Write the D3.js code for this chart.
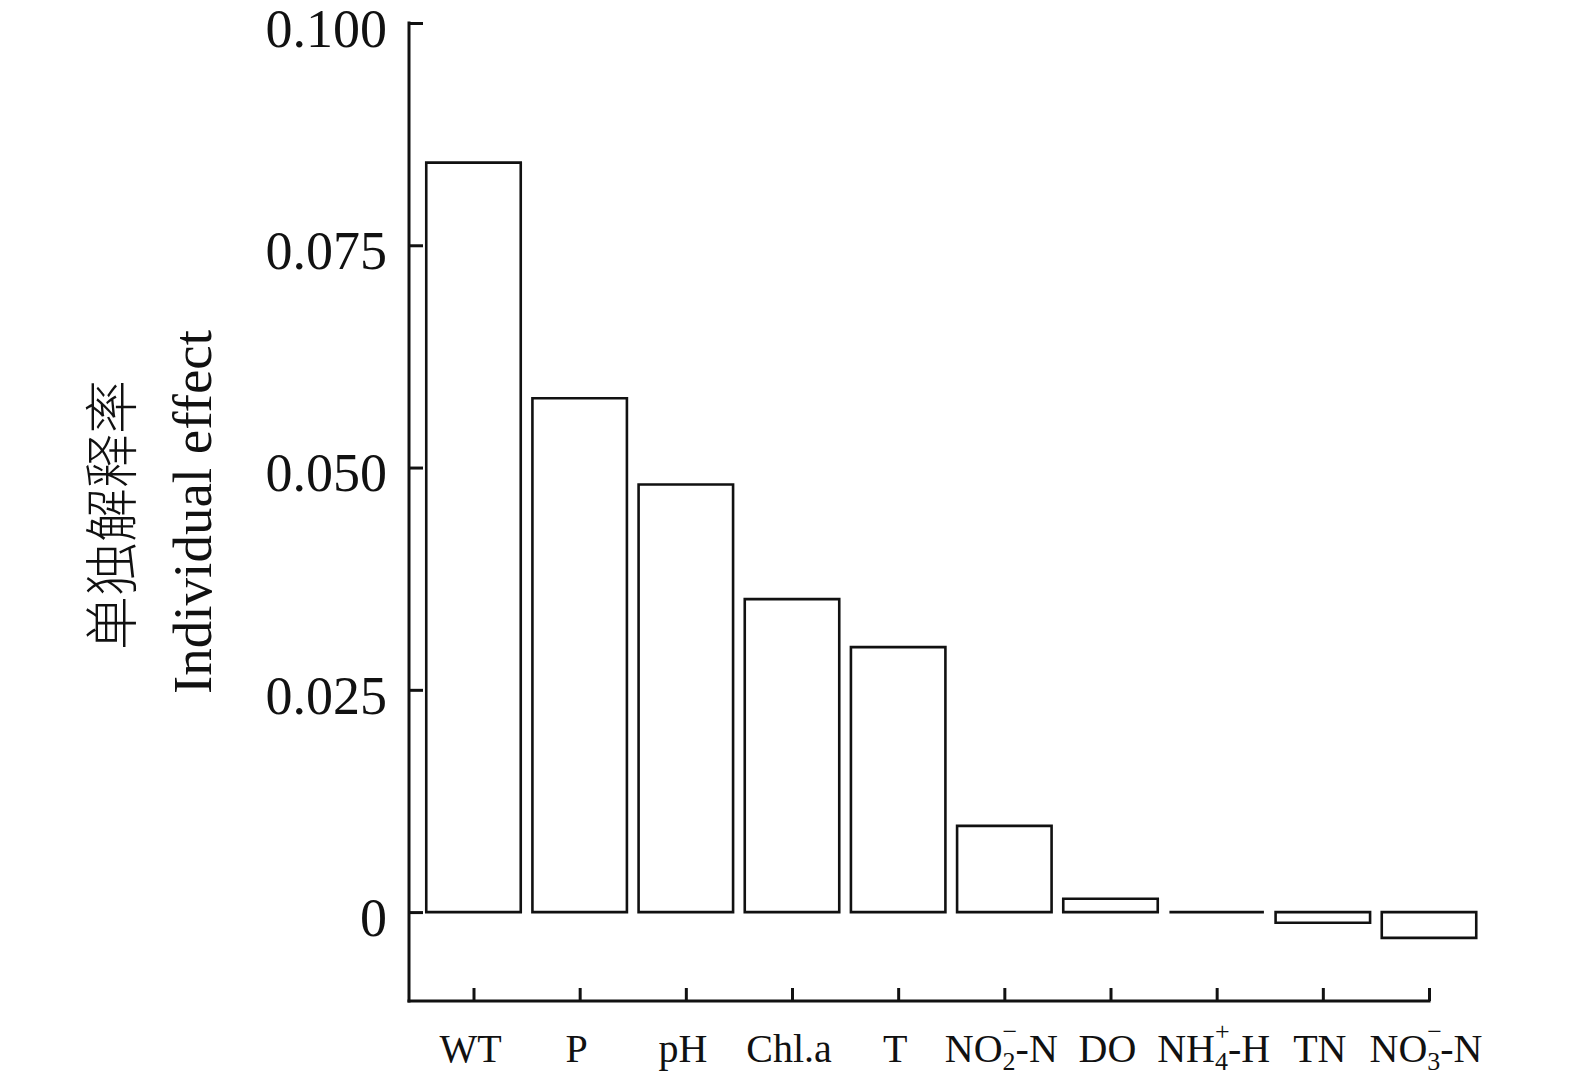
<!DOCTYPE html>
<html>
<head>
<meta charset="utf-8">
<script src="https://cdn.jsdelivr.net/npm/d3@7"></script>
<style>
  html, body { margin: 0; padding: 0; background: #fff; }
  svg { display: block; }
  text { font-family: "Liberation Serif", "Times New Roman", "Noto Sans CJK SC", serif; fill: #111; }
</style>
</head>
<body>
<svg id="chart" width="1575" height="1082"></svg>
<script>
// ---- data ----
const categories = ["WT", "P", "pH", "Chl.a", "T", "NO2-N", "DO", "NH4-H", "TN", "NO3-N"];
const values = [0.0843, 0.0578, 0.0481, 0.0352, 0.0298, 0.0097, 0.0015, 0.0, -0.0012, -0.0029];
const yTicks = [0, 0.025, 0.05, 0.075, 0.1];
const yTickLabels = ["0", "0.025", "0.050", "0.075", "0.100"];
// label parts: [base, subscript, superscript, tail]
const labelParts = {
  "NO2-N": ["NO", "2", "\u2212", "-N"],
  "NH4-H": ["NH", "4", "+", "-H"],
  "NO3-N": ["NO", "3", "\u2212", "-N"]
};
const yTitleCN = "单独解释率";
const yTitleEN = "Individual effect";

// ---- layout ----
const axisX = 409, axisBottom = 1001, axisTop = 23;
const firstCenter = 473.5, lastCenter = 1429;
const ink = "#111";

const svg = d3.select("#chart");

const x = d3.scalePoint().domain(categories).range([firstCenter, lastCenter]);
const y = d3.scaleLinear().domain([-0.01, 0.1]).range([axisBottom, axisTop]);
const barW = x.step() * 0.89;

// bars (as paths so a zero value still shows as a line)
svg.append("g")
  .selectAll("path")
  .data(categories.map((c, i) => ({ c, v: values[i] })))
  .join("path")
  .attr("d", d => {
    const p = d3.path();
    const x0 = x(d.c) - barW / 2;
    const y0 = y(Math.max(0, d.v));
    const h = Math.abs(y(d.v) - y(0));
    p.rect(x0, y0, barW, h);
    return p.toString();
  })
  .attr("fill", "#fff")
  .attr("stroke", ink)
  .attr("stroke-width", 2.6);

// y axis
const yAxis = d3.axisLeft(y)
  .tickValues(yTicks)
  .tickFormat((d, i) => yTickLabels[i])
  .tickSizeInner(-14)
  .tickSizeOuter(0)
  .tickPadding(22);

const gy = svg.append("g").attr("transform", `translate(${axisX},0)`).call(yAxis);
gy.select(".domain").remove();
gy.selectAll(".tick line").attr("stroke", ink).attr("stroke-width", 3);
gy.selectAll(".tick text")
  .attr("font-size", 54)
  .attr("dy", "0.43em")
  .attr("font-family", "Liberation Serif, Times New Roman, serif")
  .attr("fill", ink);
gy.append("line")
  .attr("x1", 0).attr("x2", 0)
  .attr("y1", y(0.1) - 1.5).attr("y2", axisBottom + 1.5)
  .attr("stroke", ink).attr("stroke-width", 3);

// x axis
const xAxis = d3.axisBottom(x)
  .tickSizeInner(-13)
  .tickSizeOuter(0)
  .tickFormat("");
const gx = svg.append("g").attr("transform", `translate(0,${axisBottom})`).call(xAxis);
gx.select(".domain").remove();
gx.selectAll(".tick line").attr("stroke", ink).attr("stroke-width", 3);
gx.append("line")
  .attr("x1", axisX - 1.5).attr("x2", x(categories[categories.length - 1]) + 1.5)
  .attr("y1", 0).attr("y2", 0)
  .attr("stroke", ink).attr("stroke-width", 3);

// x labels
const labelSize = 40, smallSize = 26;
const xl = svg.append("g");
categories.forEach(c => {
  const t = xl.append("text")
    .attr("x", x(c) - 3)
    .attr("y", 1062)
    .attr("text-anchor", "middle")
    .attr("font-size", labelSize);
  const parts = labelParts[c];
  if (!parts) { t.text(c); return; }
  t.append("tspan").text(parts[0]);
  const sub = t.append("tspan").attr("font-size", smallSize).attr("dy", 8).text(parts[1]);
  const subW = sub.node().getComputedTextLength();
  const sup = t.append("tspan").attr("font-size", smallSize).attr("dx", -subW).attr("dy", -30).text(parts[2]);
  const supW = sup.node().getComputedTextLength();
  t.append("tspan").attr("font-size", labelSize).attr("dx", subW - supW).attr("dy", 22).text(parts[3]);
});

// y title
const midY = (axisTop + axisBottom) / 2;
svg.append("text")
  .attr("transform", `translate(132,${midY + 3}) rotate(-90)`)
  .attr("text-anchor", "middle")
  .attr("font-size", 54)
  .attr("font-family", "Noto Sans CJK SC, sans-serif")
  .attr("font-weight", 300)
  .text(yTitleCN);
svg.append("text")
  .attr("transform", `translate(211,${midY}) rotate(-90)`)
  .attr("text-anchor", "middle")
  .attr("font-size", 55)
  .text(yTitleEN);
</script>
</body>
</html>
